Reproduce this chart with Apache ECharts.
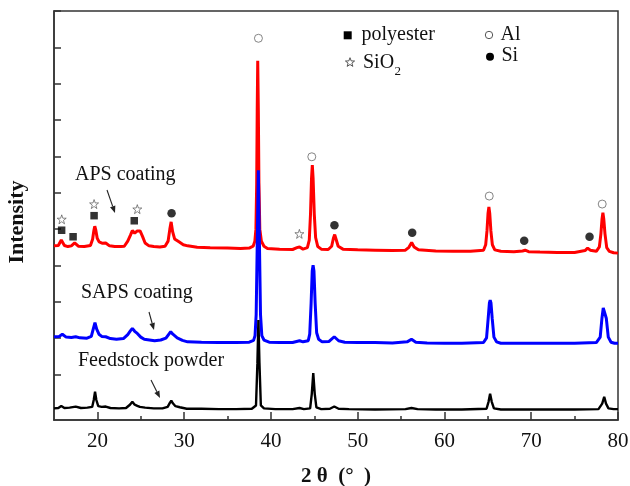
<!DOCTYPE html>
<html>
<head>
<meta charset="utf-8">
<script src="https://cdn.jsdelivr.net/npm/echarts@6/dist/echarts.min.js"></script>
<style>html,body{margin:0;padding:0;background:#fff}#c{width:630px;height:486px}</style>
</head>
<body>
<div id="c"></div>
<script>
// ---- data (2θ in degrees, intensity in arbitrary offset units) ----
const xTickLabels = [20, 30, 40, 50, 60, 70, 80];
const xMinorTicks = [25, 35, 45, 55, 65, 75];
const yTicks = [125, 225, 325, 425, 525, 625, 725, 825, 925, 1025, 1125];

const apsCoating = [
  [15.0,479],[15.5,480],[15.84,495],[16.2,480],[16.6,477],[17.0,479],[17.38,487],[17.8,478],[18.5,477],
  [19.2,480],[19.45,497],[19.6,522],[19.7,533],[19.82,522],[19.98,500],[20.2,490],[20.6,486],[20.96,487],
  [21.4,479],[22.0,477],[22.7,477],[23.1,478],[23.5,492],[23.8,508],[24.03,521],[24.3,514],[24.6,520],
  [24.92,520],[25.2,505],[25.5,487],[25.95,479],[26.5,477],[27.2,476],[27.8,478],[28.15,492],[28.35,525],
  [28.5,545],[28.67,518],[28.9,498],[29.4,490],[29.9,482],[30.4,479],[31.5,475],[33,474],[35,473],
  [36.5,472],[37.5,473],[37.95,478],[38.15,492],[38.27,525],[38.36,650],[38.42,850],[38.48,988],[38.55,850],
  [38.62,650],[38.72,525],[38.9,492],[39.2,478],[39.6,472],[41,470],[42.5,469],[43.0,474],[43.3,476],
  [43.7,470],[44.2,474],[44.42,495],[44.56,565],[44.68,665],[44.77,701],[44.86,665],[45.0,565],[45.15,502],
  [45.4,477],[45.8,470],[46.6,469],[47.0,478],[47.2,500],[47.35,510],[47.5,498],[47.75,478],[48.3,470],
  [50,468],[52,467],[54,466],[55.5,467],[55.9,475],[56.22,488],[56.5,476],[57.0,468],[59,465],[61,464],
  [63,464],[64.5,467],[64.75,482],[64.9,520],[65.02,568],[65.12,586],[65.22,568],[65.35,520],[65.52,482],
  [65.8,468],[66.5,464],[68,463],[69.0,465],[69.3,467],[69.7,463],[71,462],[73,461],[75,461],[76.2,466],
  [76.5,473],[76.8,467],[77.5,464],[77.85,476],[78.03,512],[78.16,553],[78.26,570],[78.36,553],[78.5,512],
  [78.7,474],[79.0,464],[79.5,460],[80,459]
];
const sapsCoating = [
  [15,229],[15.6,230],[15.96,236],[16.4,228],[17.0,227],[17.5,229],[18.0,226],[18.8,225],[19.3,230],
  [19.52,250],[19.72,268],[19.92,250],[20.18,236],[20.5,230],[20.96,229],[21.5,224],[22.2,222],[23.0,224],
  [23.5,235],[23.8,245],[24.03,252],[24.3,244],[24.6,238],[25.0,228],[25.4,222],[26.0,220],[26.6,218],
  [27.3,220],[27.9,225],[28.2,235],[28.45,243],[28.7,236],[29.2,226],[29.8,219],[30.4,215],[32,214],
  [34,213],[36,213],[37.5,214],[38.0,219],[38.17,232],[38.3,290],[38.42,480],[38.55,687],[38.68,480],
  [38.8,290],[38.95,232],[39.2,220],[39.8,214],[41,213],[42.5,213],[43.3,218],[43.7,215],[44.3,218],
  [44.47,236],[44.63,320],[44.76,410],[44.86,426],[44.96,410],[45.1,320],[45.27,240],[45.5,222],[45.9,215],
  [46.7,216],[47.3,229],[47.8,218],[48.5,214],[50,213],[52,213],[54,212],[55.7,215],[56.2,222],[56.7,214],
  [58,212],[60,211],[62,211],[64.5,213],[64.85,226],[65.04,280],[65.18,322],[65.27,330],[65.36,322],
  [65.5,280],[65.7,228],[66.0,215],[66.5,211],[69,211],[72,211],[75,211],[77.5,213],[77.95,228],
  [78.15,280],[78.3,308],[78.4,313],[78.5,308],[78.65,280],[78.88,228],[79.2,214],[79.6,211],[80,211]
];
const feedstockPowder = [
  [15,32],[15.5,33],[15.84,38.5],[16.2,33],[16.8,34],[17.5,36.7],[18.1,33],[18.84,34],[19.4,36],
  [19.58,55],[19.73,78],[19.88,55],[20.1,38],[20.5,36],[20.96,37],[21.5,33],[22.5,32],[23.3,33],
  [23.75,42],[24.03,50],[24.3,42],[24.6,39],[24.9,36],[25.5,34],[26.5,32],[27.5,32],[28.1,36],
  [28.35,47],[28.52,53],[28.7,46],[29.0,38],[29.5,35],[30.3,31],[32,31],[34,30],[36,30],[37.8,31],
  [38.28,40],[38.44,155],[38.56,275],[38.68,155],[38.84,40],[39.2,32],[40.5,30],[42.5,30],[43.3,33],
  [43.8,30],[44.52,32],[44.71,72],[44.88,129],[45.05,72],[45.24,35],[45.8,30],[46.8,31],[47.3,37],
  [47.8,31],[49,30],[52,29],[55.5,30],[56.2,33],[56.9,30],[59,29],[62,29],[64.85,31],[65.08,50],
  [65.26,72],[65.45,50],[65.7,32],[66.5,29],[69,29],[72,29],[75,29],[77.75,30],[78.18,45],[78.41,64],
  [78.62,45],[78.9,32],[79.5,30],[80,30]
];

// peak markers
const alPeaks = [[38.56,1050],[44.71,724],[65.16,616],[78.18,594]];
const siPeaks = [[28.55,569],[47.32,536],[56.28,515],[69.19,493],[76.72,504]];
const polyesterPeaks = [[15.88,522],[17.2,504],[19.62,562],[24.25,548]];
const sio2Peaks = [[15.89,552],[19.62,594],[24.6,580],[43.28,512]];

// ---- chart ----
const FONT = '"Liberation Serif", "Times New Roman", serif';
const STAR = 'path://M50,2 L61.8,35.5 L97.6,35.5 L68.9,56.9 L79.4,91 L50,70.5 L20.6,91 L31.1,56.9 L2.4,35.5 L38.2,35.5 Z';
const AX = '#333';

function starPoints(cx, cy, R, r) {
  const pts = [];
  for (let k = 0; k < 10; k++) {
    const a = (-90 + 36 * k) * Math.PI / 180;
    const rr = k % 2 === 0 ? R : r;
    pts.push([cx + rr * Math.cos(a), cy + rr * Math.sin(a)]);
  }
  return pts;
}
function arrow(x1, y1, x2, y2) {
  const dx = x2 - x1, dy = y2 - y1, L = Math.hypot(dx, dy);
  const ux = dx / L, uy = dy / L, hl = 7, hw = 2.8;
  const bx = x2 - ux * hl, by = y2 - uy * hl;
  return [
    {type: 'line', shape: {x1: x1, y1: y1, x2: bx, y2: by}, style: {stroke: '#222', lineWidth: 1.1}},
    {type: 'polygon', shape: {points: [[x2, y2], [bx - uy * hw, by + ux * hw], [bx + uy * hw, by - ux * hw]]}, style: {fill: '#222'}}
  ];
}
function txt(x, y, s, size, extra) {
  return Object.assign({type: 'text', x: x, y: y, style: {text: s, font: size + 'px ' + FONT, fill: '#111', verticalAlign: 'middle', align: 'left'}}, extra || {});
}

const chart = echarts.init(document.getElementById('c'), null, {renderer: 'canvas'});
chart.setOption({
  animation: false,
  backgroundColor: '#fff',
  grid: {left: 54, right: 12, top: 11, bottom: 66, containLabel: false, outerBoundsMode: 'none',
         show: true, borderColor: AX, borderWidth: 1.5},
  xAxis: [{
    type: 'value', min: 15, max: 80, interval: 5,
    name: '2 θ  (°  )', nameLocation: 'middle', nameGap: 46,
    nameTextStyle: {fontFamily: FONT, fontWeight: 'bold', fontSize: 21, color: '#111'},
    axisLine: {show: true, lineStyle: {color: AX, width: 1.5}},
    axisTick: {show: true, inside: true, length: 8, customValues: xTickLabels, lineStyle: {color: AX, width: 1.5}},
    axisLabel: {customValues: xTickLabels, fontFamily: FONT, fontSize: 21, color: '#111', margin: 11},
    splitLine: {show: false}
  }, {
    type: 'value', min: 15, max: 80, interval: 5, position: 'bottom',
    axisLine: {show: false},
    axisTick: {show: true, inside: true, length: 4, customValues: xMinorTicks, lineStyle: {color: AX, width: 1.5}},
    axisLabel: {show: false}, splitLine: {show: false}
  }],
  yAxis: {
    type: 'value', min: 0, max: 1125,
    name: 'Intensity', nameLocation: 'middle', nameGap: 26, nameRotate: 90,
    nameTextStyle: {fontFamily: FONT, fontWeight: 'bold', fontSize: 22, color: '#111', padding: [0, 13, 0, 0]},
    axisLine: {show: true, lineStyle: {color: AX, width: 1.5}},
    axisTick: {show: true, inside: true, length: 7, customValues: yTicks, lineStyle: {color: AX, width: 1.5}},
    axisLabel: {show: false}, splitLine: {show: false}
  },
  series: [
    {name: 'APS coating', type: 'line', data: apsCoating, showSymbol: false, lineStyle: {color: '#ff0000', width: 3}, itemStyle: {color: '#ff0000'}},
    {name: 'SAPS coating', type: 'line', data: sapsCoating, showSymbol: false, lineStyle: {color: '#0000ff', width: 3}, itemStyle: {color: '#0000ff'}},
    {name: 'Feedstock powder', type: 'line', data: feedstockPowder, showSymbol: false, lineStyle: {color: '#000', width: 2.4}, itemStyle: {color: '#000'}},
    {name: 'polyester', type: 'scatter', data: polyesterPeaks, symbol: 'rect', symbolSize: 7.5, itemStyle: {color: '#000'}},
    {name: 'SiO2', type: 'scatter', data: sio2Peaks, symbol: STAR, symbolSize: 9, itemStyle: {color: '#fff', borderColor: '#444', borderWidth: 0.8}},
    {name: 'Al', type: 'scatter', data: alPeaks, symbol: 'circle', symbolSize: 8, itemStyle: {color: '#fff', borderColor: '#666', borderWidth: 1}},
    {name: 'Si', type: 'scatter', data: siPeaks, symbol: 'circle', symbolSize: 8.5, itemStyle: {color: '#000'}}
  ],
  graphic: [
    // key
    {type: 'rect', shape: {x: 343.7, y: 31.3, width: 8, height: 8}, style: {fill: '#000'}},
    txt(361.5, 34.5, 'polyester', 20),
    {type: 'polygon', shape: {points: starPoints(350, 62.5, 4.8, 2.0)}, style: {fill: '#fff', stroke: '#444', lineWidth: 0.9}},
    txt(363, 62.3, 'SiO', 20),
    txt(394.5, 71.5, '2', 13),
    {type: 'circle', shape: {cx: 489, cy: 35, r: 3.7}, style: {fill: '#fff', stroke: '#555', lineWidth: 1}},
    txt(500.5, 34.7, 'Al', 20),
    {type: 'circle', shape: {cx: 490, cy: 56.7, r: 4}, style: {fill: '#000'}},
    txt(501.5, 55.7, 'Si', 20),
    // curve labels
    txt(75, 175, 'APS coating', 20),
    txt(81, 293, 'SAPS coating', 20),
    txt(78, 361, 'Feedstock powder', 20)
  ].concat(arrow(107, 190, 115, 213), arrow(149, 312, 154, 330), arrow(151, 380, 160, 398))
});
</script>
</body>
</html>
